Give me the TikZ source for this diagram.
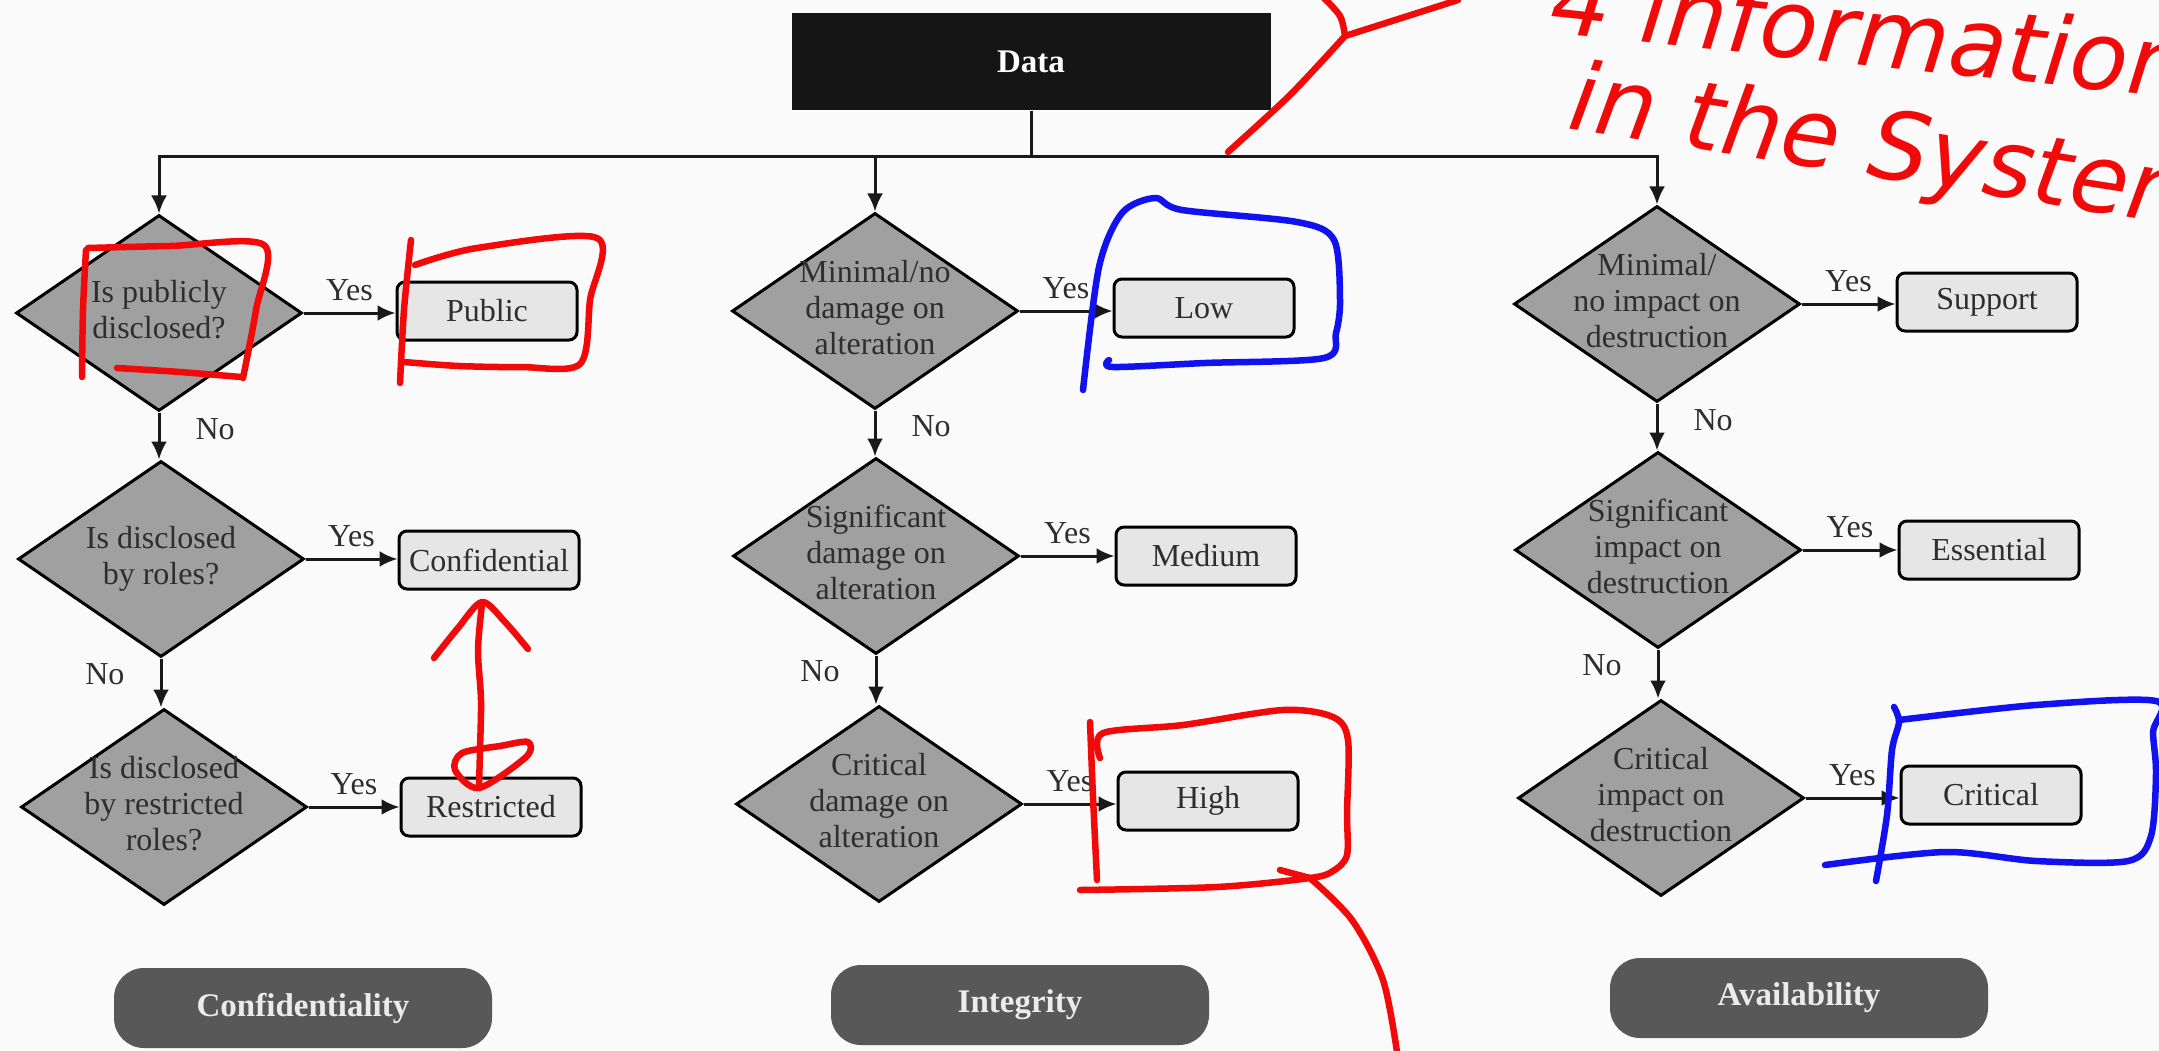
\documentclass[tikz,border=0pt]{standalone}
\usepackage{fontspec}
\setmainfont{Liberation Serif}
\newfontfamily\handfont{DejaVu Sans}
\usetikzlibrary{shapes.geometric,arrows.meta}
\definecolor{diafill}{HTML}{A0A0A0}
\definecolor{boxfill}{HTML}{E6E6E6}
\definecolor{catfill}{HTML}{585858}
\definecolor{datafill}{HTML}{151515}
\definecolor{inktxt}{HTML}{2E2E2E}
\definecolor{penred}{HTML}{F00A0A}
\definecolor{penblue}{HTML}{1212EE}
\definecolor{paper}{HTML}{FAFAFA}
\newcommand\ztext[1]{\makebox[0pt]{\begin{tabular}{@{}c@{}}#1\end{tabular}}}
\begin{document}
\begin{tikzpicture}[x=1pt,y=-1pt,
  font=\fontsize{32}{36}\selectfont,
  dia/.style={diamond, draw=black, line width=3pt, fill=diafill, minimum width=286pt, minimum height=196pt, inner sep=0pt, text=inktxt},
  outbox/.style={rectangle, rounded corners=8pt, draw=black, line width=3pt, fill=boxfill, minimum width=180pt, minimum height=58pt, inner sep=0pt, text=inktxt},
  cat/.style={rectangle, rounded corners=30pt, fill=catfill, minimum width=378pt, minimum height=80pt, text=white!92!black, font=\fontsize{33}{36}\selectfont\bfseries},
  datab/.style={rectangle, fill=datafill, minimum width=479pt, minimum height=97pt, text=white, font=\fontsize{33}{36}\selectfont\bfseries},
  conn/.style={line width=3pt, draw=black!90},
  arr/.style={conn, -{Latex[length=18pt,width=16pt]}},
  lbl/.style={text=inktxt, inner sep=5pt},
  pen/.style={line width=6.5pt, line cap=round, line join=round},
  hand/.style={text=penred, inner sep=0pt, font=\handfont\itshape\fontsize{95}{100}\selectfont},
]
\useasboundingbox (0,0) rectangle (2159,1051);
\fill[paper] (0,0) rectangle (2159,1051);

% top
\node[datab] (data) at (1031,62) {Data};

% diamonds
\node[dia] (c1q1) at (159,313) {\ztext{Is publicly\\disclosed?}};
\node[dia] (c1q2) at (161,559) {\ztext{Is disclosed\\by roles?}};
\node[dia] (c1q3) at (164,807) {\raisebox{-10pt}{\ztext{Is disclosed\\by restricted\\roles?}}};
\node[dia] (c2q1) at (875,311) {\ztext{Minimal/no\\damage on\\alteration}};
\node[dia] (c2q2) at (876,556) {\ztext{Significant\\damage on\\alteration}};
\node[dia] (c2q3) at (879,804) {\ztext{Critical\\damage on\\alteration}};
\node[dia] (c3q1) at (1657,304) {\ztext{Minimal/\\no impact on\\destruction}};
\node[dia] (c3q2) at (1658,550) {\ztext{Significant\\impact on\\destruction}};
\node[dia] (c3q3) at (1661,798) {\ztext{Critical\\impact on\\destruction}};

% outcome boxes
\node[outbox] (b11) at (487,311) {Public};
\node[outbox] (b12) at (489,560) {Confidential};
\node[outbox] (b13) at (491,807) {Restricted};
\node[outbox] (b21) at (1204,308) {Low};
\node[outbox] (b22) at (1206,556) {Medium};
\node[outbox] (b23) at (1208,801) {High};
\node[outbox] (b31) at (1987,302) {Support};
\node[outbox] (b32) at (1989,550) {Essential};
\node[outbox] (b33) at (1991,795) {Critical};

% category labels
\node[cat] (conf) at (303,1008) {Confidentiality};
\node[cat] (integ) at (1020,1005) {Integrity};
\node[cat] (avail) at (1799,998) {Availability};

% bus
\draw[conn] (data.south) -- ++(0,46) coordinate (hub);
\draw[arr] (hub) -| (c1q1.north);
\draw[arr] (hub) -| (c2q1.north);
\draw[arr] (hub) -| (c3q1.north);

% yes arrows
\foreach \q/\b in {c1q1/b11,c1q2/b12,c1q3/b13,c2q1/b21,c2q2/b22,c2q3/b23,c3q1/b31,c3q2/b32,c3q3/b33}{
  \draw[arr] (\q.east) -- (\q.east -| \b.west) node[lbl, midway, above=6pt] {Yes};
}

% no arrows
\foreach \a/\b in {c1q1/c1q2,c2q1/c2q2,c3q1/c3q2}{
  \draw[arr] (\a.south) -- (\a.south |- \b.north) node[lbl, midway, right=30pt, yshift=7pt] {No};
}
\foreach \a/\b in {c1q2/c1q3,c2q2/c2q3,c3q2/c3q3}{
  \draw[arr] (\a.south) -- (\a.south |- \b.north) node[lbl, midway, left=30pt, yshift=9pt] {No};
}

% ---- handwritten annotations ----
\begin{scope}[pen, draw=penred]
  % around first diamond
  \draw plot[smooth] coordinates {(86,250) (83,310) (82,377)};
  \draw plot[smooth] coordinates {(88,248) (170,246) (264,245) (256,310) (243,378)};
  \draw plot[smooth] coordinates {(117,368) (180,372) (241,377)};
  % around Public
  \draw plot[smooth] coordinates {(411,240) (404,310) (400,383)};
  \draw plot[smooth] coordinates {(415,265) (477,248) (597,238) (590,300) (580,364) (520,367) (459,366) (404,362)};
  % double arrow between Confidential and Restricted
  \draw plot[smooth] coordinates {(482,604) (478,650) (481,700) (480,750) (479,786)};
  \draw plot[smooth] coordinates {(434,658) (458,628) (482,602) (505,622) (528,649)};
  \draw plot[smooth cycle] coordinates {(479,788) (455,770) (462,753) (500,746) (528,742) (526,757)};
  % around High
  \draw plot[smooth] coordinates {(1090,722) (1093,797) (1097,880)};
  \draw plot[smooth] coordinates {(1100,758) (1103,733) (1183,725) (1283,710) (1333,717) (1348,740) (1347,813) (1347,855) (1333,871) (1310,878) (1217,887) (1080,890)};
  \draw (1280,870) -- (1310,878);
  \draw plot[smooth] coordinates {(1310,878) (1352,920) (1383,980) (1397,1052)};
  % stroke near Data
  \draw plot[smooth] coordinates {(1228,152) (1290,95) (1345,36)};
  \draw plot[smooth] coordinates {(1322,-4) (1340,16) (1345,36)};
  \draw (1345,36) -- (1458,0);
\end{scope}
\node[hand, anchor=base west, rotate=-6] (hand1) at (1548,32) {4 information};
\node[hand, anchor=base west, rotate=-9] (hand2) at (1566,128) {in the System};

\begin{scope}[pen, draw=penblue]
  % around Low
  \draw plot[smooth] coordinates {(1083,390) (1099,267) (1122,213) (1155,198) (1182,210) (1297,222) (1334,240) (1340,300) (1336,333) (1324,358) (1205,363) (1113,367) (1109,360)};
  % around Critical
  \draw plot[smooth] coordinates {(1894,707) (1899,722) (1892,750) (1887,815) (1876,881)};
  \draw plot[smooth] coordinates {(1899,720) (2036,705) (2156,701) (2153,732) (2156,773) (2151,836) (2128,861) (2036,861) (1945,852) (1825,865)};
\end{scope}
\end{tikzpicture}
\end{document}
